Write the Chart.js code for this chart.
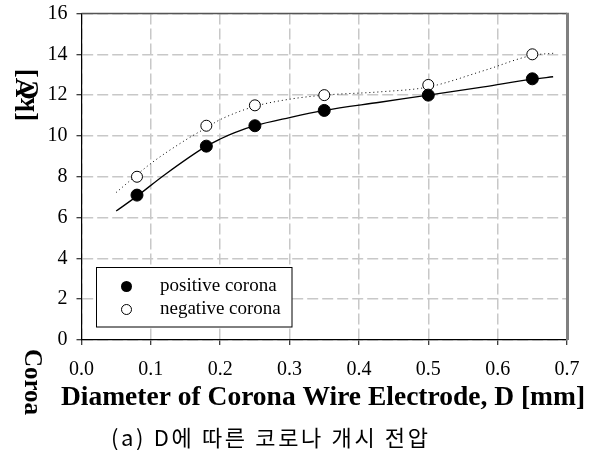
<!DOCTYPE html>
<html>
<head>
<meta charset="utf-8">
<script src="https://cdn.jsdelivr.net/npm/chart.js@4.4.1/dist/chart.umd.min.js"></script>
<style>
  html, body { margin: 0; padding: 0; background: #fff; }
  #wrap { width: 595px; height: 450px; position: relative; }
</style>
</head>
<body>
<div id="wrap"><canvas id="coronaChart"></canvas></div>
<script>
// measured onset voltages
const diameters = [0.08, 0.18, 0.25, 0.35, 0.50, 0.65];
const positiveKV = [7.1, 9.5, 10.5, 11.25, 12.0, 12.8];
const negativeKV = [8.0, 10.5, 11.5, 12.0, 12.5, 14.0];

// fitted trend curves
const posFitD = [0.05, 0.08, 0.12, 0.18, 0.20, 0.22, 0.25, 0.30, 0.35, 0.43, 0.50, 0.58, 0.65, 0.68];
const posFitKV = [6.32, 7.05, 8.1, 9.5, 9.85, 10.15, 10.5, 10.9, 11.25, 11.65, 12.0, 12.4, 12.78, 12.9];
const negFitD = [0.05, 0.10, 0.15, 0.18, 0.20, 0.25, 0.30, 0.35, 0.43, 0.50, 0.58, 0.65, 0.68];
const negFitKV = [7.23, 8.65, 9.8, 10.4, 10.8, 11.45, 11.8, 12.0, 12.16, 12.4, 13.2, 13.95, 14.05];

const xTicks = [0.0, 0.1, 0.2, 0.3, 0.4, 0.5, 0.6, 0.7];
const yTicks = [0, 2, 4, 6, 8, 10, 12, 14, 16];

const legendLabels = ['positive corona', 'negative corona'];

function pts(xs, ys) {
  return xs.map((x, i) => ({ x: x, y: ys[i] }));
}

const serif = '"Liberation Serif", "Times New Roman", serif';

// frame, legend box and extra labels
const decorations = {
  id: 'decorations',
  afterDraw(chart) {
    const ctx = chart.ctx;
    const a = chart.chartArea;
    ctx.save();
    // top and right frame
    ctx.strokeStyle = '#555';
    ctx.lineWidth = 1.5;
    ctx.beginPath();
    ctx.moveTo(a.left, a.top);
    ctx.lineTo(a.right, a.top);
    ctx.stroke();
    ctx.strokeStyle = '#808080';
    ctx.lineWidth = 3;
    ctx.beginPath();
    ctx.moveTo(a.right + 0.5, a.top - 0.7);
    ctx.lineTo(a.right + 0.5, a.bottom);
    ctx.stroke();

    // legend
    ctx.fillStyle = '#fff';
    ctx.fillRect(96.5, 267.5, 195.5, 59.5);
    ctx.strokeStyle = '#000';
    ctx.lineWidth = 1;
    ctx.strokeRect(96.5, 267.5, 195.5, 59.5);
    ctx.font = '19px ' + serif;
    ctx.textBaseline = 'middle';
    ctx.textAlign = 'left';
    const rows = [286.5, 309.5];
    rows.forEach((yy, i) => {
      ctx.beginPath();
      ctx.arc(126.5, yy, i === 0 ? 5.5 : 5, 0, Math.PI * 2);
      if (i === 0) {
        ctx.fillStyle = '#000';
        ctx.fill();
      } else {
        ctx.fillStyle = '#fff';
        ctx.fill();
        ctx.strokeStyle = '#000';
        ctx.lineWidth = 1;
        ctx.stroke();
      }
      ctx.fillStyle = '#000';
      ctx.fillText(legendLabels[i], 160, yy);
    });

    // y axis title
    ctx.font = 'bold 27px ' + serif;
    ctx.fillStyle = '#000';
    ctx.textAlign = 'center';
    ctx.textBaseline = 'middle';
    ctx.save();
    ctx.translate(27, 95);
    ctx.rotate(-Math.PI / 2);
    ctx.fillText('[kV]', 0, 0);
    ctx.restore();
    ctx.save();
    ctx.translate(31, 90);
    ctx.rotate(-Math.PI / 2);
    ctx.fillText('C', 0, 0);
    ctx.restore();

    ctx.font = 'bold 25px ' + serif;
    ctx.save();
    ctx.translate(31, 382);
    ctx.rotate(Math.PI / 2);
    ctx.fillText('Coroa', 0, 0);
    ctx.restore();

    // x axis title
    ctx.font = 'bold 27.5px ' + serif;
    ctx.fillText('Diameter of Corona Wire Electrode, D [mm]', 323, 398);

    // caption, spread to its printed width
    const caption = '(a) D에 따른 코로나 개시 전압';
    ctx.font = '22px "Noto Sans CJK KR", sans-serif';
    const w = ctx.measureText(caption).width;
    ctx.letterSpacing = Math.max(0, (317 - w) / (caption.length - 1)).toFixed(2) + 'px';
    ctx.textAlign = 'left';
    ctx.fillText(caption, 111, 438);
    ctx.restore();
  }
};

const ctx = document.getElementById('coronaChart').getContext('2d');
new Chart(ctx, {
  type: 'scatter',
  data: {
    datasets: [
      {
        label: 'positive fit',
        data: pts(posFitD, posFitKV),
        showLine: true,
        borderColor: '#000',
        borderWidth: 1.3,
        pointRadius: 0,
        cubicInterpolationMode: 'monotone',
        order: 3
      },
      {
        label: 'negative fit',
        data: pts(negFitD, negFitKV),
        showLine: true,
        borderColor: '#000',
        borderWidth: 1,
        borderDash: [1, 3],
        pointRadius: 0,
        cubicInterpolationMode: 'monotone',
        order: 4
      },
      {
        label: legendLabels[0],
        data: pts(diameters, positiveKV),
        pointRadius: 6,
        pointBackgroundColor: '#000',
        pointBorderColor: '#000',
        pointBorderWidth: 1,
        order: 1
      },
      {
        label: legendLabels[1],
        data: pts(diameters, negativeKV),
        pointRadius: 5.5,
        pointBackgroundColor: '#fff',
        pointBorderColor: '#000',
        pointBorderWidth: 1,
        order: 2
      }
    ]
  },
  options: {
    responsive: true,
    maintainAspectRatio: false,
    animation: false,
    layout: { padding: { left: 0, top: 13.5, right: 28, bottom: 0 } },
    plugins: {
      legend: { display: false },
      tooltip: { enabled: false }
    },
    scales: {
      x: {
        type: 'linear',
        min: 0,
        max: 0.7,
        afterFit: s => {
          s.height = 110;
          s.paddingLeft = 0;
          s.paddingRight = 0;
        },
        afterBuildTicks: s => { s.ticks = xTicks.map(v => ({ value: v })); },
        ticks: {
          color: '#000',
          font: { family: serif, size: 20 },
          padding: 13,
          maxRotation: 0,
          callback: v => v.toFixed(1)
        },
        grid: {
          color: '#c8c8c8',
          lineWidth: 1.5,
          tickLength: 5,
          tickColor: '#000',
          tickWidth: 1
        },
        border: { color: '#000', width: 1.2, dash: [11, 4] }
      },
      y: {
        min: 0,
        max: 16,
        afterFit: s => {
          s.width = 81.5;
          s.paddingTop = 0;
          s.paddingBottom = 0;
        },
        afterBuildTicks: s => { s.ticks = yTicks.map(v => ({ value: v })); },
        ticks: {
          color: '#000',
          font: { family: serif, size: 20 },
          padding: 9
        },
        grid: {
          color: '#c8c8c8',
          lineWidth: 1.5,
          tickLength: 5,
          tickColor: '#000',
          tickWidth: 1
        },
        border: { color: '#000', width: 1.2, dash: [11, 4] }
      }
    }
  },
  plugins: [decorations]
});
</script>
</body>
</html>
